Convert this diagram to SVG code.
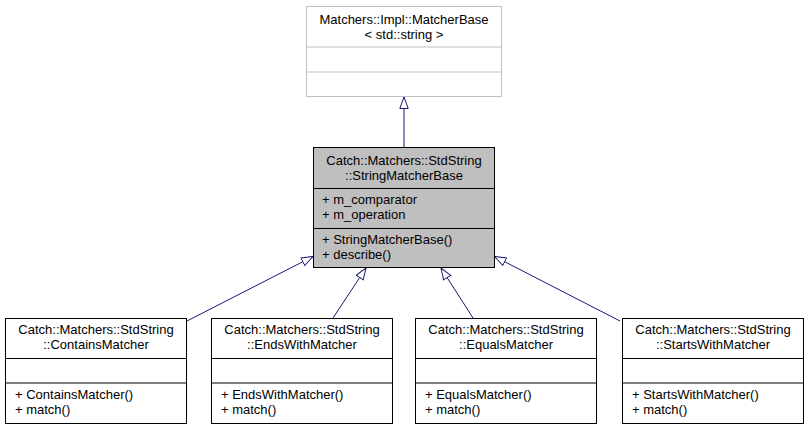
<svg xmlns="http://www.w3.org/2000/svg" width="808" height="429" viewBox="0 0 808 429">
<defs>
<style>
text{font-family:"Liberation Sans",Arial,sans-serif;font-size:13px;fill:#000}
.c{text-anchor:middle}
.box{fill:#fff;stroke:#000;stroke-width:1}
.gray{fill:#bfbfbf;stroke:#000;stroke-width:1}
.light{fill:#fff;stroke:#bfbfbf;stroke-width:1}
.e{stroke:#191970;stroke-width:1;fill:none}
</style>
<marker id="tri" viewBox="0 0 13 10" refX="12" refY="5" markerWidth="13" markerHeight="10" markerUnits="userSpaceOnUse" orient="auto">
<path d="M0.5,0.8 L12,5 L0.5,9.2 Z" fill="#fff" stroke="#191970" stroke-width="1"/>
</marker>
</defs>
<rect width="808" height="429" fill="#fff"/>
<g id="edges">
<line class="e" x1="404" y1="147" x2="404" y2="97" marker-end="url(#tri)"/>
<line class="e" x1="187" y1="321" x2="313" y2="256.5" marker-end="url(#tri)"/>
<line class="e" x1="333" y1="318" x2="366" y2="268" marker-end="url(#tri)"/>
<line class="e" x1="473" y1="318" x2="441" y2="268" marker-end="url(#tri)"/>
<line class="e" x1="620" y1="321" x2="494.5" y2="256.5" marker-end="url(#tri)"/>
</g>
<g id="MatcherBase">
<rect class="light" x="306.5" y="6.5" width="195" height="90"/>
<line class="light" x1="306.5" y1="47" x2="501.5" y2="47"/>
<line class="light" x1="306.5" y1="72" x2="501.5" y2="72"/>
<text class="c" x="404" y="24">Matchers::Impl::MatcherBase</text>
<text class="c" x="404" y="39">&lt; std::string &gt;</text>
</g>
<g id="StringMatcherBase">
<rect class="gray" x="313.5" y="147.5" width="181" height="120"/>
<line class="gray" x1="313.5" y1="188.5" x2="494.5" y2="188.5"/>
<line class="gray" x1="313.5" y1="228.5" x2="494.5" y2="228.5"/>
<text class="c" x="404" y="165">Catch::Matchers::StdString</text>
<text class="c" x="404" y="180">::StringMatcherBase</text>
<text x="322" y="204">+ m_comparator</text>
<text x="322" y="219">+ m_operation</text>
<text x="322" y="244">+ StringMatcherBase()</text>
<text x="322" y="259">+ describe()</text>
</g>
<g id="ContainsMatcher">
<rect class="box" x="5.5" y="318.5" width="181" height="105"/>
<line class="box" x1="5.5" y1="358.5" x2="186.5" y2="358.5"/>
<line class="box" x1="5.5" y1="383" x2="186.5" y2="383"/>
<text class="c" x="96" y="334">Catch::Matchers::StdString</text>
<text class="c" x="96" y="349">::ContainsMatcher</text>
<text x="15" y="399">+ ContainsMatcher()</text>
<text x="15" y="414">+ match()</text>
</g>
<g id="EndsWithMatcher">
<rect class="box" x="211.5" y="318.5" width="181" height="105"/>
<line class="box" x1="211.5" y1="358.5" x2="392.5" y2="358.5"/>
<line class="box" x1="211.5" y1="383" x2="392.5" y2="383"/>
<text class="c" x="302" y="334">Catch::Matchers::StdString</text>
<text class="c" x="302" y="349">::EndsWithMatcher</text>
<text x="221" y="399">+ EndsWithMatcher()</text>
<text x="221" y="414">+ match()</text>
</g>
<g id="EqualsMatcher">
<rect class="box" x="415.5" y="318.5" width="181" height="105"/>
<line class="box" x1="415.5" y1="358.5" x2="596.5" y2="358.5"/>
<line class="box" x1="415.5" y1="383" x2="596.5" y2="383"/>
<text class="c" x="506" y="334">Catch::Matchers::StdString</text>
<text class="c" x="506" y="349">::EqualsMatcher</text>
<text x="425" y="399">+ EqualsMatcher()</text>
<text x="425" y="414">+ match()</text>
</g>
<g id="StartsWithMatcher">
<rect class="box" x="622.5" y="318.5" width="181" height="105"/>
<line class="box" x1="622.5" y1="358.5" x2="803.5" y2="358.5"/>
<line class="box" x1="622.5" y1="383" x2="803.5" y2="383"/>
<text class="c" x="713" y="334">Catch::Matchers::StdString</text>
<text class="c" x="713" y="349">::StartsWithMatcher</text>
<text x="632" y="399">+ StartsWithMatcher()</text>
<text x="632" y="414">+ match()</text>
</g>
</svg>
